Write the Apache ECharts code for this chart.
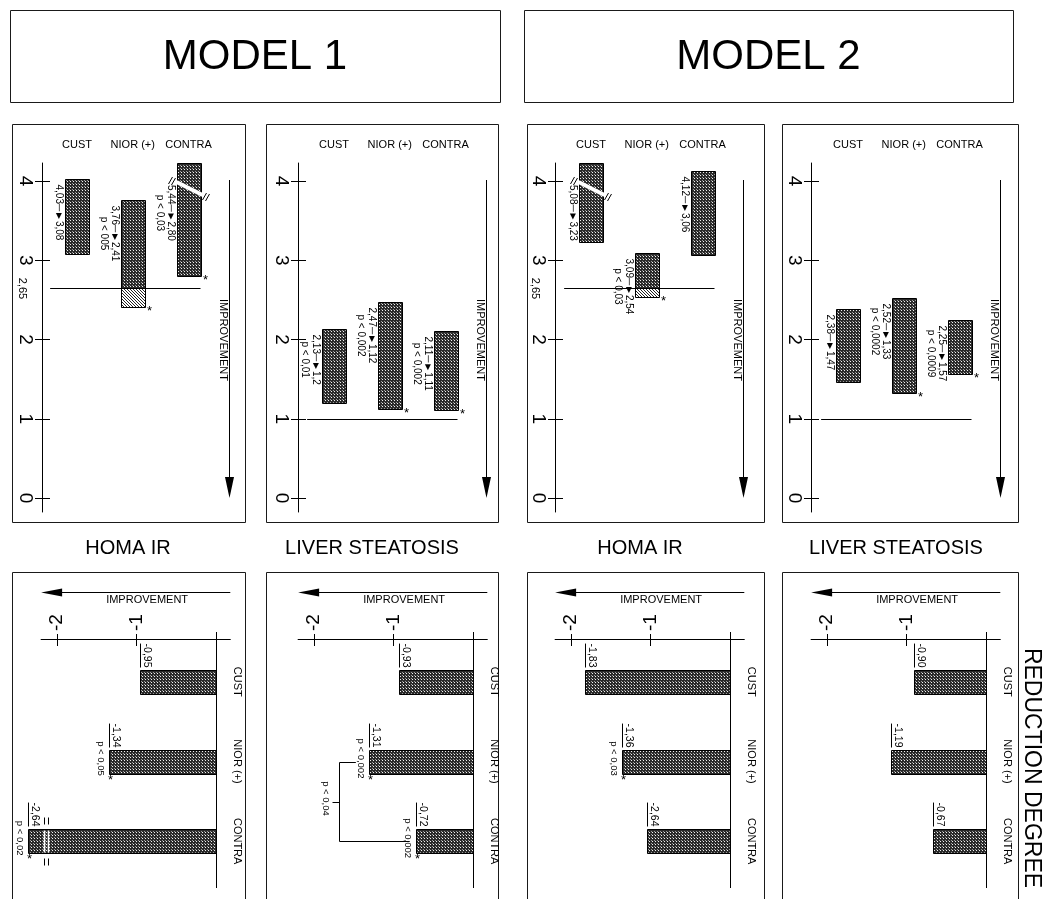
<!DOCTYPE html>
<html><head><meta charset="utf-8">
<script src="https://cdn.jsdelivr.net/npm/echarts@6/dist/echarts.min.js"></script>
<style>html,body{margin:0;padding:0;background:#fff}#c{width:1043px;height:899px}</style>
</head><body><div id="c"></div>
<script>
const FONT = '"Liberation Sans", Arial, Helvetica, sans-serif';

// ---------------- DATA ----------------
const categories = ['CUST', 'NIOR (+)', 'CONTRA'];
const upperTicks = [0, 1, 2, 3, 4];
const lowerTicks = [-2, -1];
const homaCutoff = 2.65;
const liverCutoff = 1;

// Model 1 - HOMA IR (baseline -> end)
const m1HomaBefore = [4.03, 3.76, 5.44];
const m1HomaAfter = [3.08, 2.41, 2.80];
const m1HomaText = ['4,03─►3,08', '3,76─►2,41', '5,44─►2,80'];
const m1HomaP = ['', 'p < 005', 'p < 0,03'];
const m1HomaStar = [0, 1, 1];
// Model 1 - Liver steatosis
const m1LiverBefore = [2.13, 2.47, 2.11];
const m1LiverAfter = [1.2, 1.12, 1.11];
const m1LiverText = ['2,13─►1,2', '2,47─►1,12', '2,11─►1,11'];
const m1LiverP = ['p < 0,01', 'p < 0,002', 'p < 0,002'];
const m1LiverStar = [0, 1, 1];
// Model 2 - HOMA IR
const m2HomaBefore = [5.08, 3.09, 4.12];
const m2HomaAfter = [3.23, 2.54, 3.06];
const m2HomaText = ['5,08─►3,23', '3,09─►2,54', '4,12─►3,06'];
const m2HomaP = ['', 'p < 0,03', ''];
const m2HomaStar = [0, 1, 0];
// Model 2 - Liver steatosis
const m2LiverBefore = [2.38, 2.52, 2.25];
const m2LiverAfter = [1.47, 1.33, 1.57];
const m2LiverText = ['2,38─►1,47', '2,52─►1,33', '2,25─►1,57'];
const m2LiverP = ['', 'p < 0,0002', 'p < 0,0009'];
const m2LiverStar = [0, 1, 1];

// Reduction degree (lower panels)
const m1HomaRed = [-0.95, -1.34, -2.64];
const m1HomaRedText = ['-0,95', '-1,34', '-2,64'];
const m1HomaRedP = ['', 'p < 0,05', 'p < 0,02'];
const m1HomaRedStar = [0, 1, 1];
const m1LiverRed = [-0.93, -1.31, -0.72];
const m1LiverRedText = ['-0,93', '-1,31', '-0,72'];
const m1LiverRedP = ['', 'p < 0,002', 'p < 0,002'];
const m1LiverRedStar = [0, 1, 1];
const m1LiverBracket = [1, 2];
const m1LiverBracketP = 'p < 0,04';
const m2HomaRed = [-1.83, -1.36, -1.05];
const m2HomaRedText = ['-1,83', '-1,36', '-2,64'];
const m2HomaRedP = ['', 'p < 0,03', ''];
const m2HomaRedStar = [0, 1, 0];
const m2LiverRed = [-0.90, -1.19, -0.67];
const m2LiverRedText = ['-0,90', '-1,19', '-0,67'];
const m2LiverRedP = ['', '', ''];
const m2LiverRedStar = [0, 0, 0];

// ---------------- LAYOUT ----------------
const Y_MIN = -0.177, Y_MAX = 4.227;          // upper value axis extent
const U_SCALE = 79.25, U_ZERO = 498;
const U_TOP = U_ZERO - Y_MAX * U_SCALE, U_H = (Y_MAX - Y_MIN) * U_SCALE;
const BAND = 55.75;
const X_MIN = -2.2, X_MAX = 0.18, X_DRAW_MIN = -2.36; // lower value axis extent
const L_SCALE = 79.5, L_TOP = 642, L_H = 239;

const upperAxisX = [42, 298, 555, 811];
const upperFirstCenter = [77, 334, 591, 848];
const upperArrowX = [229, 486, 743, 1000];
const boxX = [[12, 245], [266, 498], [527, 764], [782, 1018]];
const lowerZero = [216, 473, 730, 986];
const subTitleX = [128, 372, 640, 896];
const subTitles = ['HOMA IR', 'LIVER STEATOSIS', 'HOMA IR', 'LIVER STEATOSIS'];

const upperPanels = [
  {before: m1HomaBefore, after: m1HomaAfter, text: m1HomaText, p: m1HomaP, star: m1HomaStar, cutoff: homaCutoff, cutLabel: '2,65'},
  {before: m1LiverBefore, after: m1LiverAfter, text: m1LiverText, p: m1LiverP, star: m1LiverStar, cutoff: liverCutoff, cutLabel: ''},
  {before: m2HomaBefore, after: m2HomaAfter, text: m2HomaText, p: m2HomaP, star: m2HomaStar, cutoff: homaCutoff, cutLabel: '2,65'},
  {before: m2LiverBefore, after: m2LiverAfter, text: m2LiverText, p: m2LiverP, star: m2LiverStar, cutoff: liverCutoff, cutLabel: ''}
];
const lowerPanels = [
  {values: m1HomaRed, text: m1HomaRedText, p: m1HomaRedP, star: m1HomaRedStar},
  {values: m1LiverRed, text: m1LiverRedText, p: m1LiverRedP, star: m1LiverRedStar, bracket: m1LiverBracket, bracketP: m1LiverBracketP},
  {values: m2HomaRed, text: m2HomaRedText, p: m2HomaRedP, star: m2HomaRedStar},
  {values: m2LiverRed, text: m2LiverRedText, p: m2LiverRedP, star: m2LiverRedStar}
];

// ---------------- HELPERS ----------------
function mkPattern(n, draw) { const c = document.createElement('canvas'); c.width = c.height = n; draw(c.getContext('2d')); return c; }
const dotFill = {image: mkPattern(3, g => {
  g.fillStyle = '#2a2a2a'; g.fillRect(0, 0, 3, 3);
  g.fillStyle = '#f0f0f0'; g.fillRect(1, 1, 1, 1);
  g.fillStyle = '#999'; g.fillRect(0, 0, 1, 1);
}), repeat: 'repeat'};
const hatchFill = {image: mkPattern(3, g => {
  g.fillStyle = '#fff'; g.fillRect(0, 0, 3, 3);
  g.fillStyle = '#222'; for (let i = 0; i < 3; i++) g.fillRect(i, i, 1, 1);
}), repeat: 'repeat'};

const mctx = document.createElement('canvas').getContext('2d');
function textW(t, size) { mctx.font = size + 'px ' + FONT; return mctx.measureText(t).width; }
const R = v => Math.round(v) + 0.5;
const lineEl = (x1, y1, x2, y2, w, c) => ({type: 'line', shape: {x1, y1, x2, y2}, style: {stroke: c || '#000', lineWidth: w || 1}});
const rectEl = (x, y, w, h, fill, stroke) => ({type: 'rect', shape: {x, y, width: w, height: h}, style: {fill: fill, stroke: stroke || null, lineWidth: 1}});
const textEl = (x, y, text, size, align, valign, rot) => ({type: 'text', x, y, rotation: rot === undefined ? -Math.PI / 2 : rot,
  style: {text, font: size + 'px ' + FONT, fill: '#000', align: align || 'center', verticalAlign: valign || 'middle'}});

// ---------------- SERIES ----------------
function upperBars(k, P) {
  return {
    type: 'custom', xAxisIndex: k, yAxisIndex: 2 * k, silent: true, animation: false,
    data: categories.map((c, i) => [i, P.before[i], P.after[i]]),
    encode: {x: 0, y: [1, 2]},
    renderItem(params, api) {
      const i = api.value(0), b = api.value(1), a = api.value(2);
      const cs = params.coordSys;
      const W = 24;
      const cx = api.coord([i, 0])[0];
      const x0 = R(cx - W / 2);
      const clipped = b > Y_MAX;
      const yTop = R(clipped ? cs.y : api.coord([i, b])[1]);
      const yBot = R(api.coord([i, a])[1]);
      const yThr = R(api.coord([i, P.cutoff])[1]);
      const ch = [];
      if (a < P.cutoff && b > P.cutoff) {
        ch.push(rectEl(x0, yTop, W, yThr - yTop, dotFill));
        ch.push(rectEl(x0, yThr, W, yBot - yThr, hatchFill));
      } else {
        ch.push(rectEl(x0, yTop, W, yBot - yTop, dotFill));
      }
      ch.push(rectEl(x0, yTop, W, yBot - yTop, 'none', '#000'));
      if (clipped) {
        ch.push(lineEl(x0 - 1, yTop + 18.5, x0 + W + 1, yTop + 31.5, 4, '#fff'));
        [[x0 - 5, yTop + 17], [x0 + W + 5, yTop + 33]].forEach(([mx, my]) => {
          ch.push(lineEl(mx - 4, my + 3.5, mx, my - 3.5, 1));
          ch.push(lineEl(mx - 1, my + 4.5, mx + 3, my - 2.5, 1));
        });
      }
      const txt = P.text[i];
      const w1 = textW(txt, 10);
      const startY = clipped ? cs.y + 22 : yTop + 5;
      const cyT = startY + w1 / 2;
      ch.push(textEl(x0 - 7, cyT, txt, 10));
      if (P.p[i]) ch.push(textEl(x0 - 18, cyT, P.p[i], 10));
      if (P.star[i]) ch.push(textEl(x0 + W + 4, yBot + 4, '*', 13, 'center', 'middle', 0));
      return {type: 'group', children: ch};
    }
  };
}
function upperCut(k, P) {
  return {
    type: 'custom', xAxisIndex: k, yAxisIndex: 2 * k, silent: true, animation: false,
    data: [[0, P.cutoff]], encode: {x: 0, y: 1},
    renderItem(params, api) {
      const cs = params.coordSys;
      const y = R(api.coord([0, api.value(1)])[1]);
      const x2 = api.coord([categories.length - 1, 0])[0] + 12;
      const ch = [lineEl(cs.x + 1, y, x2, y, 1)];
      if (P.cutLabel) ch.push(textEl(upperAxisX[k] - 20, y, P.cutLabel, 11));
      return {type: 'group', children: ch};
    }
  };
}
function lowerBars(k, P) {
  return {
    type: 'custom', xAxisIndex: 4 + 2 * k, yAxisIndex: 8 + k, silent: true, animation: false,
    data: categories.map((c, i) => [P.values[i], i]),
    encode: {x: 0, y: 1},
    renderItem(params, api) {
      const v = api.value(0), i = api.value(1);
      const H = 24;
      const z = api.coord([0, i]);
      const broken = v < X_MIN;
      const xe = R(api.coord([broken ? X_DRAW_MIN : v, i])[0]);
      const xr = R(z[0]);
      const yT = R(z[1] - H / 2), yB = yT + H, cy = z[1];
      const ch = [rectEl(xe, yT, xr - xe, H, dotFill, '#000')];
      if (broken) {
        [xe + 16, xe + 20].forEach(bx => {
          ch.push(lineEl(bx, yT + 1, bx, yB - 1, 1.6, '#fff'));
          ch.push(lineEl(bx, yT - 12, bx, yT - 5, 1));
          ch.push(lineEl(bx, yB + 5, bx, yB + 12, 1));
        });
      }
      const lbl = P.text[i];
      const wl = textW(lbl, 10.5);
      const yEnd = yT - 3;
      ch.push(textEl(xe + 1, yEnd, lbl, 10.5, 'right', 'bottom'));
      ch.push(lineEl(xe, yEnd - wl, xe, yEnd, 1));
      if (P.p[i]) ch.push(textEl(xe - 9, cy - 3, P.p[i], 9.5));
      if (P.star[i]) ch.push(textEl(xe + 1, yB + 6, '*', 13, 'center', 'middle', 0));
      return {type: 'group', children: ch};
    }
  };
}
function lowerZeroLine(k) {
  return {
    type: 'custom', xAxisIndex: 4 + 2 * k, yAxisIndex: 8 + k, silent: true, animation: false,
    data: [[0, 0]], encode: {x: 0, y: 1},
    renderItem(params, api) {
      const cs = params.coordSys;
      const x = R(api.coord([api.value(0), 0])[0]);
      return lineEl(x, cs.y - 10, x, cs.y + cs.height + 7, 1);
    }
  };
}
function lowerBracket(k, P) {
  return {
    type: 'custom', xAxisIndex: 4 + 2 * k, yAxisIndex: 8 + k, silent: true, animation: false,
    data: [[-1.68, P.bracket[0], P.bracket[1]]], encode: {x: 0, y: 1},
    renderItem(params, api) {
      const xv = R(api.coord([api.value(0), 0])[0]);
      const i1 = api.value(1), i2 = api.value(2);
      const y1 = R(api.coord([0, i1])[1]), y2 = R(api.coord([0, i2])[1]);
      const e1 = api.coord([P.values[i1], i1])[0] - 13;
      const e2 = api.coord([P.values[i2], i2])[0] - 6;
      const mid = R((y1 + y2) / 2);
      return {type: 'group', children: [
        lineEl(xv, y1, e1, y1, 1), lineEl(xv, y1, xv, y2, 1), lineEl(xv, y2, e2, y2, 1),
        lineEl(xv - 7, mid, xv, mid, 1),
        textEl(xv - 14, mid - 4, P.bracketP, 9.5)
      ]};
    }
  };
}

// ---------------- OPTION ----------------
const grids = [], xAxes = [], yAxes = [], series = [];
upperPanels.forEach((P, k) => {
  const gl = upperFirstCenter[k] - BAND / 2;
  const off = gl - upperAxisX[k];
  grids.push({left: gl, top: U_TOP, width: 3 * BAND, height: U_H, outerBoundsMode: 'none', containLabel: false});
  xAxes.push({type: 'category', gridIndex: k, data: categories, position: 'top',
    axisLine: {show: false}, axisTick: {show: false}, splitLine: {show: false},
    axisLabel: {interval: 0, fontSize: 11, color: '#000', margin: 12.5, fontFamily: FONT}});
  yAxes.push({type: 'value', gridIndex: k, min: Y_MIN, max: Y_MAX, position: 'left', offset: off,
    axisLine: {show: true, lineStyle: {color: '#000', width: 1}},
    axisTick: {show: true, customValues: upperTicks, length: 7, lineStyle: {color: '#000', width: 1}},
    axisLabel: {show: true, customValues: upperTicks, rotate: -90, fontSize: 19, color: '#000', margin: 7, fontFamily: FONT},
    splitLine: {show: false}});
  yAxes.push({type: 'value', gridIndex: k, min: Y_MIN, max: Y_MAX, position: 'left', offset: off,
    axisLine: {show: false},
    axisTick: {show: true, inside: true, customValues: upperTicks, length: 8, lineStyle: {color: '#000', width: 1}},
    axisLabel: {show: false}, splitLine: {show: false}});
  series.push(upperBars(k, P));
  series.push(upperCut(k, P));
});
lowerPanels.forEach((P, k) => {
  const g = 4 + k;
  grids.push({left: lowerZero[k] + X_MIN * L_SCALE, top: L_TOP, width: (X_MAX - X_MIN) * L_SCALE, height: L_H, outerBoundsMode: 'none', containLabel: false});
  xAxes.push({type: 'value', gridIndex: g, min: X_MIN, max: X_MAX, position: 'top', offset: 3,
    axisLine: {show: true, onZero: false, lineStyle: {color: '#000', width: 1}},
    axisTick: {show: true, customValues: lowerTicks, length: 5, lineStyle: {color: '#000', width: 1}},
    axisLabel: {show: true, customValues: lowerTicks, rotate: -90, fontSize: 19, color: '#000', margin: 8, fontFamily: FONT},
    splitLine: {show: false}});
  xAxes.push({type: 'value', gridIndex: g, min: X_MIN, max: X_MAX, position: 'top', offset: 3,
    axisLine: {show: false},
    axisTick: {show: true, inside: true, customValues: lowerTicks, length: 7, lineStyle: {color: '#000', width: 1}},
    axisLabel: {show: false}, splitLine: {show: false}});
  yAxes.push({type: 'category', gridIndex: g, data: categories, inverse: true, position: 'right',
    axisLine: {show: false}, axisTick: {show: false}, splitLine: {show: false},
    axisLabel: {interval: 0, rotate: -90, fontSize: 11, color: '#000', margin: 1, fontFamily: FONT}});
  series.push(lowerBars(k, P));
  series.push(lowerZeroLine(k));
  if (P.bracket) series.push(lowerBracket(k, P));
});

// decorations
const graphic = [];
const gStyleText = (size) => ({font: size + 'px ' + FONT, fill: '#000', align: 'center', verticalAlign: 'middle', textAlign: 'center', textVerticalAlign: 'middle'});
function gRect(x1, y1, x2, y2) { graphic.push({type: 'rect', silent: true, shape: {x: x1 + 0.5, y: y1 + 0.5, width: x2 - x1, height: y2 - y1}, style: {fill: 'none', stroke: '#1a1a1a', lineWidth: 1}}); }
function gText(x, y, text, size, rot) { graphic.push({type: 'text', silent: true, x, y, rotation: rot || 0, style: Object.assign({text}, gStyleText(size))}); }
function gLine(x1, y1, x2, y2) { graphic.push({type: 'line', silent: true, shape: {x1, y1, x2, y2}, style: {stroke: '#000', lineWidth: 1}}); }
function gPoly(pts) { graphic.push({type: 'polygon', silent: true, shape: {points: pts}, style: {fill: '#000'}}); }

gRect(10, 10, 500, 102); gText(255, 57, 'MODEL 1', 42);
gRect(524, 10, 1013, 102); gText(768.5, 57, 'MODEL 2', 42);
boxX.forEach(([x1, x2], k) => {
  gRect(x1, 124, x2, 522);
  gRect(x1, 572, x2, 920);
  gText(subTitleX[k], 548, subTitles[k], 20);
  const ax = upperArrowX[k] + 0.5;
  gLine(ax, 180, ax, 480);
  gPoly([[ax - 4.5, 477], [ax + 4.5, 477], [ax, 498]]);
  gText(ax - 6.5, 340, 'IMPROVEMENT', 11, -Math.PI / 2);
  const x0 = lowerZero[k] + X_MIN * L_SCALE, x1b = lowerZero[k] + X_MAX * L_SCALE;
  gPoly([[x0, 592.5], [x0 + 21, 588.5], [x0 + 21, 596.5]]);
  gLine(x0 + 20, 592.5, x1b, 592.5);
  gText(x0 + 106, 600, 'IMPROVEMENT', 11);
});
gText(1031, 768, 'REDUCTION DEGREE', 23, -Math.PI / 2);

const chart = echarts.init(document.getElementById('c'), null, {renderer: 'canvas', width: 1043, height: 899});
chart.setOption({
  animation: false,
  backgroundColor: '#fff',
  textStyle: {fontFamily: FONT},
  grid: grids, xAxis: xAxes, yAxis: yAxes, series: series, graphic: graphic
});
</script>
</body></html>
